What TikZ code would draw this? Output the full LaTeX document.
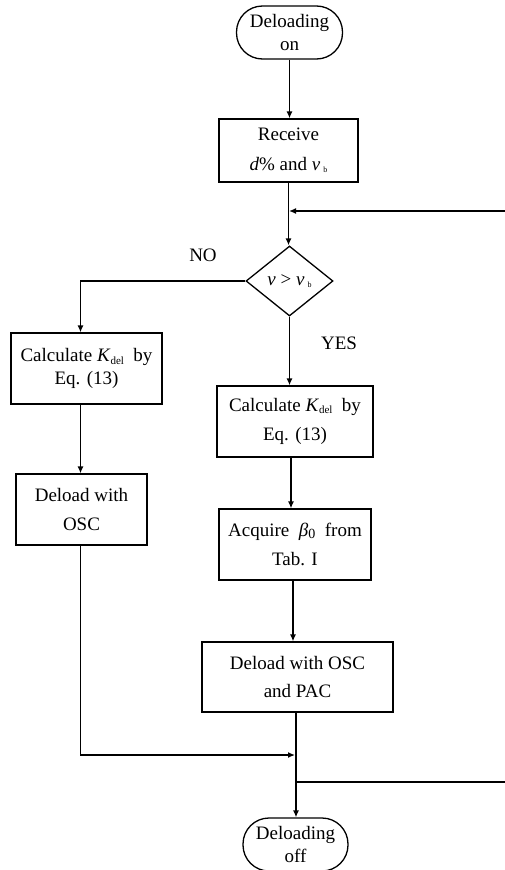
\documentclass[tikz,border=0pt]{standalone}
\usepackage{fontspec}
\setmainfont{Liberation Serif}
\usetikzlibrary{arrows.meta,shapes.geometric}
\newcommand\subb{\raisebox{-2.5pt}{\fontsize{8}{8}\selectfont b}}
\newcommand\subdel{\raisebox{-2.5pt}{\fontsize{11}{11}\selectfont del}}
\newcommand\subzero{\raisebox{-2pt}{\fontsize{14}{14}\selectfont 0}}
\begin{document}
\begin{tikzpicture}[x=1pt,y=-1pt,
  every node/.style={font=\fontsize{19}{22.5}\selectfont, inner sep=0pt, align=center},
  procbox/.style={draw, line width=1.3pt},
  term/.style={draw, line width=1.3pt, rounded corners=26pt, minimum width=106pt, minimum height=53pt},
  decbox/.style={draw, line width=1.3pt, diamond, aspect=1.25, minimum width=87pt, minimum height=70pt},
  arr/.style={line width=1.3pt, -{Latex[length=7pt,width=6pt]}},
  ln/.style={line width=1.3pt}]
\clip (0,0) rectangle (505,870);
\useasboundingbox (0,0) rectangle (505,870);
\node[term] (start) at (289.5,32.5) {Deloading\\on};
\node[procbox, minimum width=139pt, minimum height=63pt] (recv) at (288.5,150.5)
  {Receive\\[7pt]\textit{d}\% and \textit{v}\,\subb};
\node[decbox] (dec) at (289.5,281) {\textit{v} > \textit{v}\,\subb};
\node (no) at (203,255) {NO};
\node (yes) at (339,343) {YES};
\node[procbox, minimum width=151pt, minimum height=71pt] (b1) at (86.5,368.5)
  {Calculate\ \textit{K}\subdel\ \ by\\Eq. (13)};
\node[procbox, minimum width=131pt, minimum height=71pt] (b2) at (81.5,509.5)
  {Deload with\\[6pt]OSC};
\node[procbox, minimum width=156pt, minimum height=71pt] (b3) at (295,421.5)
  {Calculate\ \textit{K}\subdel\ \ by\\[7pt]Eq. (13)};
\node[procbox, minimum width=152pt, minimum height=71pt] (b4) at (295,544.5)
  {Acquire\ \ \textit{β}\subzero\ \ from\\[6pt]Tab. I};
\node[procbox, minimum width=191pt, minimum height=70pt] (b5) at (297.5,677)
  {Deload with OSC\\[6pt]and PAC};
\node[term, minimum width=105pt] (end) at (295.5,844.5) {Deloading\\off};
\coordinate (j1) at (289,211);
\coordinate (r1) at (506,211);
\coordinate (j2) at (295,755);
\coordinate (j3) at (296,782);
\coordinate (r2) at (506,782);
\draw[arr] (start.south) -- (start.south |- recv.north);
\draw[arr] (recv.south) -- (recv.south |- dec.north);
\draw[arr] (r1) -- (j1);
\draw[arr] (dec.west) -| ([xshift=-6pt]b1.north);
\draw[arr] ([xshift=-6pt]b1.south) -- ([xshift=-6pt]b1.south |- b2.north);
\draw[arr] ([xshift=-1pt]b2.south) |- (j2);
\draw[arr] (dec.south) -- (dec.south |- b3.north);
\draw[arr] ([xshift=-4pt]b3.south) -- ([xshift=-4pt]b3.south |- b4.north);
\draw[arr] ([xshift=-2pt]b4.south) -- ([xshift=-2pt]b4.south |- b5.north);
\draw[arr] ([xshift=-1.5pt]b5.south) -- ([xshift=-1.5pt]b5.south |- end.north);
\draw[ln] (j3) -- (r2);
\end{tikzpicture}
\end{document}
